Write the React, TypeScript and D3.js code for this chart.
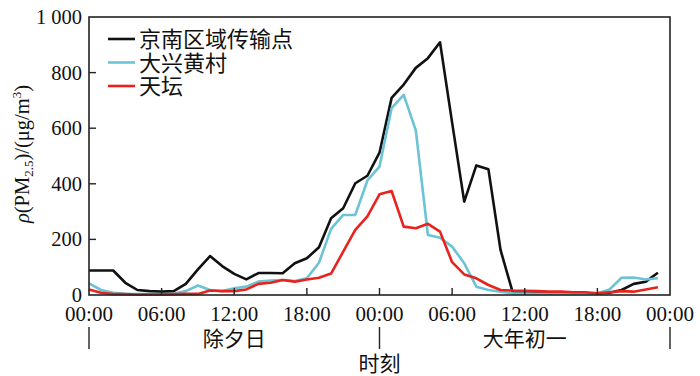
import React from "react";
import * as d3 from "d3";

const hours: number[] = Array.from({ length: 48 }, (_, i) => i);
const jingnan: number[] = [88,88,88,44,18,14,12,14,40,92,140,104,76,56,79,79,78,114,132,172,276,312,402,429,512,709,757,817,852,909,620,336,466,452,162,10,8,8,6,6,5,5,6,8,18,40,48,80];
const daxing: number[] = [42,18,8,4,3,3,3,4,14,34,18,14,24,30,48,52,54,50,60,116,238,288,288,412,462,672,720,592,216,206,174,114,30,18,12,6,5,4,4,4,4,4,6,20,62,63,56,60];
const tiantan: number[] = [20,8,3,3,2,2,2,3,4,4,16,14,14,20,40,44,54,48,56,62,77,156,234,283,362,374,246,240,256,228,118,74,60,36,18,16,15,14,12,12,10,10,6,10,14,12,20,28];
const seriesNames: string[] = ["京南区域传输点", "大兴黄村", "天坛"];
const seriesColors: string[] = ["#111111", "#6cc3d5", "#e8231d"];
const xTickHours: number[] = [0, 6, 12, 18, 24, 30, 36, 42, 48];
const xTickLabels: string[] = ["00:00","06:00","12:00","18:00","00:00","06:00","12:00","18:00","00:00"];
const yTicks: number[] = [0, 200, 400, 600, 800, 1000];
const yTickLabels: string[] = ["0", "200", "400", "600", "800", "1 000"];
const dayLabels: string[] = ["除夕日", "大年初一"];
const dayCenters: number[] = [12, 36];
const dayBounds: number[] = [0, 24, 48];

const L = 89, R = 670, T = 17, B = 295;
const serif = "'Liberation Serif', 'DejaVu Serif', serif";
const cjk = "'Noto Sans CJK SC', sans-serif";

export default function App() {
  const x = d3.scaleLinear().domain([0, 48]).range([L, R]);
  const y = d3.scaleLinear().domain([0, 1000]).range([B, T]);
  const line = d3.line<number>().x((_, i) => x(hours[i])).y((d) => y(d));
  const all = [jingnan, daxing, tiantan];
  return (
    <svg width={700} height={376} style={{ position: "absolute", left: 0, top: 0, background: "#fff" }}>
      {all.map((s, k) => (
        <path key={k} d={line(s) || ""} fill="none" stroke={seriesColors[k]} strokeWidth={2.6} strokeLinejoin="round" />
      ))}
      <rect x={L} y={T} width={R - L} height={B - T} fill="none" stroke="#222" strokeWidth={1.6} />
      {xTickHours.map((h, i) => (
        <g key={i}>
          {i > 0 && i < xTickHours.length - 1 && (
            <line x1={x(h)} x2={x(h)} y1={B} y2={B - 7} stroke="#222" strokeWidth={1.4} />
          )}
          <text x={x(h)} y={321} textAnchor="middle" fontFamily={serif} fontSize={21} fill="#111">{xTickLabels[i]}</text>
        </g>
      ))}
      {yTicks.map((v, i) => (
        <g key={i}>
          {i > 0 && i < yTicks.length - 1 && (
            <line x1={L} x2={L + 7} y1={y(v)} y2={y(v)} stroke="#222" strokeWidth={1.4} />
          )}
          <text x={82} y={y(v) + 7} textAnchor="end" fontFamily={serif} fontSize={20.5} fill="#111">{yTickLabels[i]}</text>
        </g>
      ))}
      {dayBounds.map((h, i) => (
        <line key={i} x1={x(h)} x2={x(h)} y1={327} y2={349} stroke="#222" strokeWidth={1.4} />
      ))}
      {dayLabels.map((t, i) => (
        <text key={i} x={x(dayCenters[i])} y={346} textAnchor="middle" fontFamily={cjk} fontSize={21} fill="#111">{t}</text>
      ))}
      <text x={x(24)} y={371} textAnchor="middle" fontFamily={cjk} fontSize={21} fill="#111">时刻</text>
      <text transform={`translate(29,${154}) rotate(-90)`} textAnchor="middle" fontFamily={serif} fontSize={20.5} fill="#111">
        <tspan fontStyle="italic">ρ</tspan>
        <tspan>(PM</tspan>
        <tspan fontSize={13} dy={4}>2.5</tspan>
        <tspan dy={-4}>)/(μg/m</tspan>
        <tspan fontSize={13} dy={-8}>3</tspan>
        <tspan dy={8}>)</tspan>
      </text>
      {seriesNames.map((n, k) => (
        <g key={k}>
          <line x1={108} x2={135} y1={39 + k * 23.5} y2={39 + k * 23.5} stroke={seriesColors[k]} strokeWidth={2.6} />
          <text x={139} y={39 + k * 23.5 + 8} fontFamily={cjk} fontSize={22} fill="#111">{n}</text>
        </g>
      ))}
    </svg>
  );
}
